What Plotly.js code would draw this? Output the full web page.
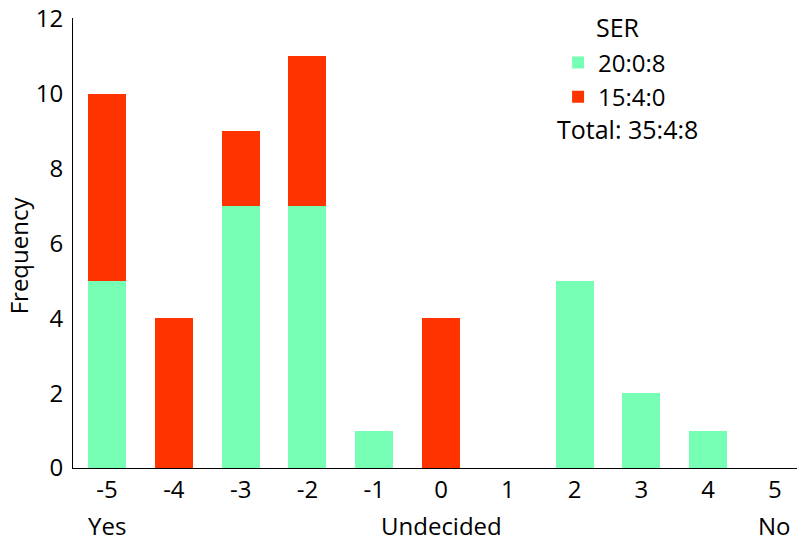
<!DOCTYPE html>
<html>
<head>
<meta charset="utf-8">
<script src="https://cdn.plot.ly/plotly-3.0.1.min.js"></script>
<style>html,body{margin:0;padding:0;background:#fff;}#chart{width:801px;height:546px;}</style>
</head>
<body>
<div id="chart"></div>
<script>
const categories = [-5, -4, -3, -2, -1, 0, 1, 2, 3, 4, 5];
const greenValues = [5, 0, 7, 7, 1, 0, 0, 5, 2, 1, 0];
const redValues = [5, 4, 2, 4, 0, 4, 0, 0, 0, 0, 0];
const seriesNames = ['20:0:8', '15:4:0'];
const legendTitle = 'SER';
const totalLabel = 'Total: 35:4:8';
const yTitle = 'Frequency';
const yTicks = [0, 2, 4, 6, 8, 10, 12];
const scaleLabels = [{x: -5, text: 'Yes'}, {x: 0, text: 'Undecided'}, {x: 5, text: 'No'}];

const FONT = '"Open Sans", Lato, sans-serif';
const FS = 24;
const LFS = 25;

const traces = [
  {type: 'bar', x: categories, y: greenValues, name: seriesNames[0], marker: {color: '#76FFB4'}, width: 0.57},
  {type: 'bar', x: categories, y: redValues, name: seriesNames[1], marker: {color: '#FF3300'}, width: 0.57}
];

const annotations = scaleLabels.map(s => ({
  x: s.x, xref: 'x', y: 0, yref: 'paper', yanchor: 'middle', yshift: -57, text: s.text, showarrow: false,
  font: {size: FS, color: '#000', family: FONT}
}));
annotations.push({
  x: 0.866, xref: 'paper', y: 0.753, yref: 'paper', xanchor: 'right', yanchor: 'middle',
  text: totalLabel, showarrow: false, font: {size: LFS, color: '#000', family: FONT}
});
annotations.push({
  x: 0.72, xref: 'paper', y: 0.98, yref: 'paper', xanchor: 'left', yanchor: 'middle',
  text: legendTitle, showarrow: false, font: {size: LFS, color: '#000', family: FONT}
});
annotations.push({
  x: -0.075, xref: 'paper', y: 0.472, yref: 'paper', xanchor: 'center', yanchor: 'middle',
  text: yTitle, textangle: -90, showarrow: false, font: {size: FS, color: '#000', family: FONT}
});

const layout = {
  width: 801, height: 546,
  margin: {l: 73, r: 4, t: 18, b: 78},
  paper_bgcolor: '#fff', plot_bgcolor: '#fff',
  barmode: 'stack',
  font: {family: FONT, size: FS, color: '#000'},
  showlegend: true,
  legend: {
    x: 0.67, y: 0.95, xanchor: 'left', yanchor: 'top',
    font: {size: FS, family: FONT},
    traceorder: 'normal', bgcolor: 'rgba(0,0,0,0)', itemwidth: 30
  },
  xaxis: {
    range: [-5.51, 5.33], tickvals: categories, ticktext: categories.map(String),
    showline: true, linecolor: '#000', linewidth: 1, showgrid: false, zeroline: false,
    ticks: '', tickfont: {size: FS, family: FONT}
  },
  yaxis: {
    range: [0, 12.02], tickvals: yTicks, showline: true, linecolor: '#000', linewidth: 1,
    showgrid: false, zeroline: false, ticks: '', tickfont: {size: FS, family: FONT},
    ticklabeloverflow: 'allow', ticklabelstandoff: 4
  },
  annotations: annotations
};

Plotly.newPlot('chart', traces, layout, {displayModeBar: false, staticPlot: true});
</script>
</body>
</html>
